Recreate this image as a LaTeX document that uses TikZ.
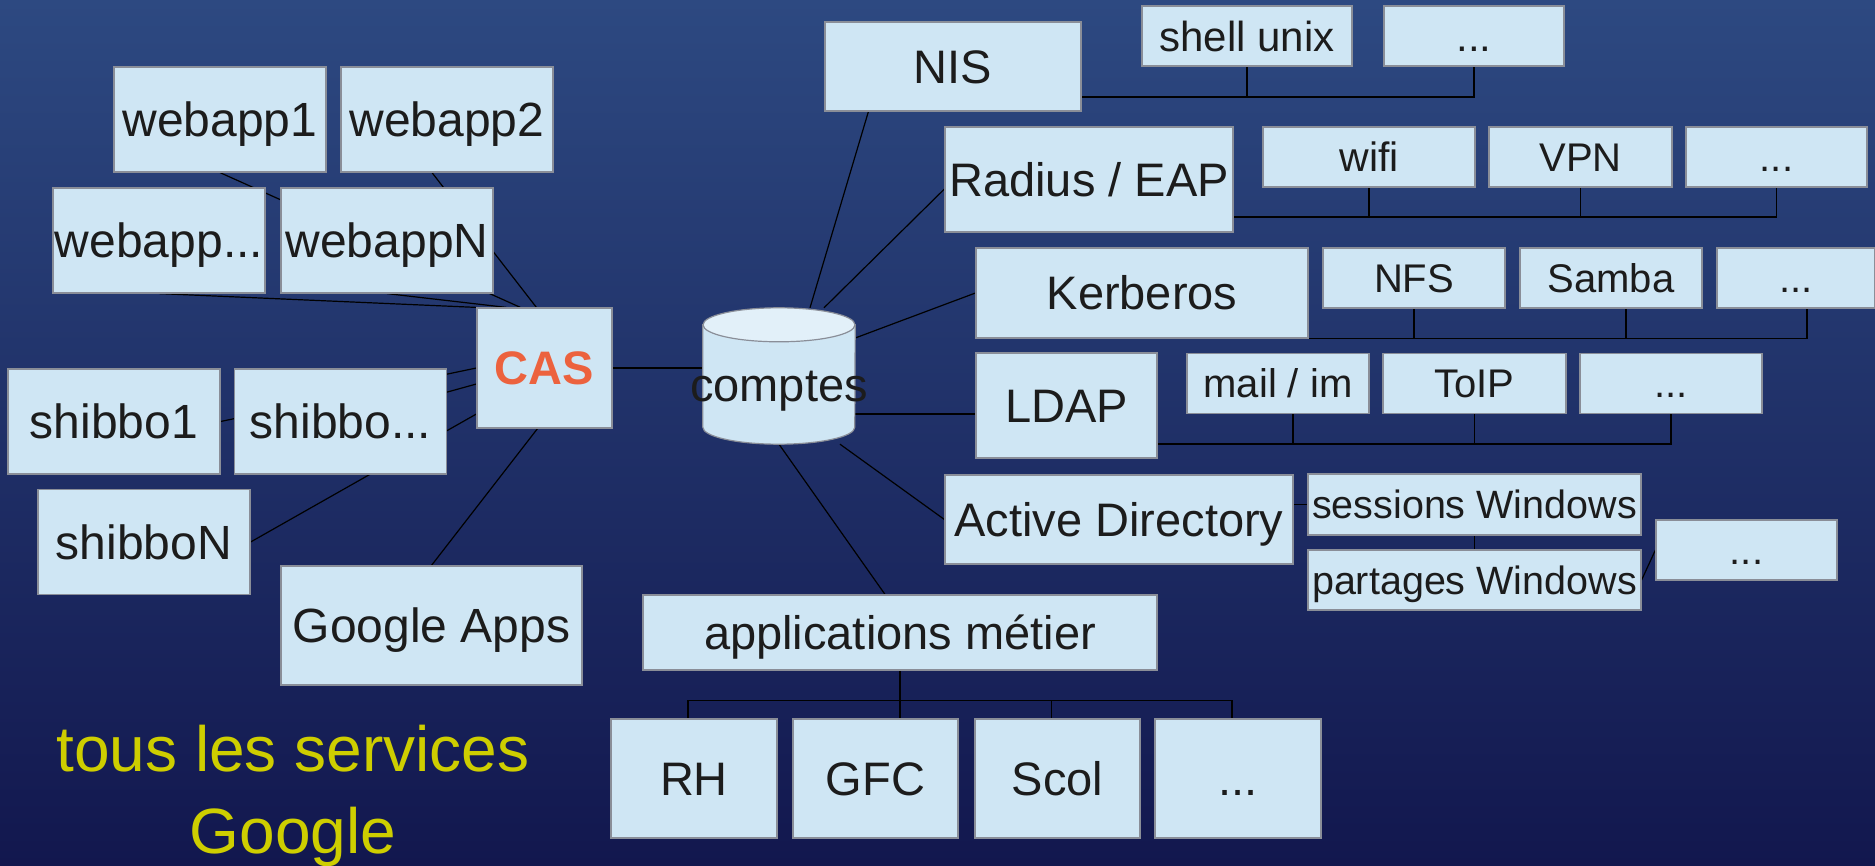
\documentclass[tikz,border=0pt]{standalone}
\usepackage{fontspec}
\setmainfont{Liberation Sans}
\usepackage{tikz}

\definecolor{boxfill}{RGB}{207,230,244}
\definecolor{boxedge}{RGB}{138,142,152}
\definecolor{drumtop}{RGB}{226,240,249}
\definecolor{inktext}{RGB}{28,28,28}
\definecolor{casorange}{RGB}{236,98,62}
\definecolor{googleyellow}{RGB}{206,206,0}
\definecolor{skytop}{RGB}{45,73,129}
\definecolor{skybottom}{RGB}{18,23,78}

\pgfdeclarelayer{background}
\pgfdeclarelayer{wires}
\pgfdeclarelayer{drum}
\pgfsetlayers{background,wires,drum,main}

% font size in px, caps centred in the box
\tikzset{fs/.code={\pgfmathsetmacro\capht{0.716*#1}%
  \edef\fsnext{\noexpand\tikzset{font=\noexpand\fontsize{#1pt}{#1pt}\noexpand\selectfont,
    text height=\capht pt, text depth=0pt}}\fsnext}}
\tikzset{boxsize/.style 2 args={minimum width=#1pt, minimum height=#2pt}}
\tikzstyle{service}=[rectangle, draw=boxedge, line width=1.2pt, fill=boxfill,
  text=inktext, inner sep=0pt, fs=47]
\newcommand{\service}{\node[service]}

\begin{document}
\begin{tikzpicture}[x=1pt, y=-1pt,
    wire/.style={draw=black, line width=1.2pt},
    every edge/.style={wire}
]
\useasboundingbox (0,0) rectangle (1875,866);
\begin{pgfonlayer}{background}
\shade[top color=skytop, bottom color=skybottom] (0,0) rectangle (1875,866);
\end{pgfonlayer}
\clip (0,0) rectangle (1875,866);

% CAS side
\service (webappA) at (220,119.5) [boxsize={212}{105}, fs=48] {webapp1};
\service (webappB) at (447,119.5) [boxsize={212}{105}, fs=48] {webapp2};
\service (webappDots) at (159,240.5) [boxsize={212}{105}, fs=48] {webapp...};
\service (webappN) at (387,240.5) [boxsize={212}{105}, fs=48] {webappN};
\service (cas) at (544.5,368) [boxsize={135}{120}, text=casorange,
  font=\fontsize{47pt}{47pt}\selectfont\bfseries] {CAS};
\service (shibA) at (114,421.5) [boxsize={212}{105}, fs=48] {shibbo1};
\service (shibDots) at (340.5,421.5) [boxsize={212}{105}, fs=48] {shibbo...};
\service (shibN) at (144,542) [boxsize={212}{105}, fs=48] {shibboN};
\service (gapps) at (431.5,625.5) [boxsize={301}{119}, fs=48] {Google Apps};
\node (googleNote) at (293,853) [anchor=base, align=center, text=googleyellow,
  font=\fontsize{64pt}{82pt}\selectfont] {tous les services\\Google};

% the accounts store (label is wider than the drum)
\node (comptes) at (779,376) [minimum width=152pt, minimum height=136pt, inner sep=0pt,
  inner xsep=-13pt, text=inktext, fs=47, text height=52pt] {comptes};

% NIS / Radius / Kerberos / LDAP / AD
\service (nis) at (953,66.5) [boxsize={256}{89}] {NIS};
\service (shell) at (1247,36) [boxsize={210}{60}, fs=42] {shell unix};
\service (nisMore) at (1474,36) [boxsize={180}{60}, fs=42] {...};
\service (radius) at (1089,179.5) [boxsize={288}{105}] {Radius / EAP};
\service (wifi) at (1369,157) [boxsize={212}{60}, fs=41] {wifi};
\service (vpn) at (1580.5,157) [boxsize={183}{60}, fs=40] {VPN};
\service (radiusMore) at (1776.5,157) [boxsize={181}{60}, fs=40] {...};
\service (kerberos) at (1142,293) [boxsize={332}{90}] {Kerberos};
\service (nfs) at (1414,278) [boxsize={182}{60}, fs=40] {NFS};
\service (samba) at (1611,278) [boxsize={182}{60}, fs=40] {Samba};
\service (kerbMore) at (1796,278) [boxsize={158}{60}, fs=40] {...};
\service (ldap) at (1066.5,405.5) [boxsize={181}{105}] {LDAP};
\service (mail) at (1278,383.5) [boxsize={182}{60}, fs=40] {mail / im};
\service (toip) at (1474.5,383.5) [boxsize={183}{60}, fs=40] {ToIP};
\service (ldapMore) at (1671,383.5) [boxsize={182}{60}, fs=40] {...};
\service (ad) at (1119,519.5) [boxsize={348}{89}] {Active Directory};
\service (sessions) at (1474.5,504.5) [boxsize={333}{61}, fs=39.5] {sessions Windows};
\service (partages) at (1474.5,580) [boxsize={333}{60}, fs=39.5] {partages Windows};
\service (adMore) at (1746.5,550) [boxsize={181}{60}, fs=40] {...};

% business applications
\service (metier) at (900,632.5) [boxsize={514}{75}] {applications métier};
\service (rh) at (694,778.5) [boxsize={166}{119}] {RH};
\service (gfc) at (875.5,778.5) [boxsize={165}{119}] {GFC};
\service (scol) at (1057.5,778.5) [boxsize={165}{119}] {Scol};
\service (metierMore) at (1238,778.5) [boxsize={166}{119}] {...};

% cylinder behind the comptes label
\begin{pgfonlayer}{drum}
\filldraw[fill=boxfill, draw=boxedge, line width=1.2pt]
  ([yshift=-17pt]comptes.north west) -- ([yshift=17pt]comptes.south west)
  arc[start angle=180, end angle=360, x radius=76pt, y radius=17pt]
  -- ([yshift=-17pt]comptes.north east) -- cycle;
\filldraw[fill=drumtop, draw=boxedge, line width=1.2pt]
  ([yshift=-17pt]comptes.north) ellipse [x radius=76pt, y radius=17pt];
\end{pgfonlayer}

\begin{pgfonlayer}{wires}
\path
(webappDots.south) edge (cas.north west)
(webappN.south) edge ([xshift=30pt]cas.north west)
(webappA.south) edge ([xshift=44pt]cas.north west)
([xshift=-15pt]webappB.south) edge ([xshift=60pt]cas.north west)
(shibA.east) edge (cas.west)
(shibDots) edge ([yshift=-16pt]cas.west)
(shibN.east) edge ([yshift=-46pt]cas.west)
(gapps.north) edge ([xshift=-7pt]cas.south)
([xshift=31pt]comptes.north) edge ([xshift=44pt]nis.south west)
([xshift=45pt]comptes.north) edge ([yshift=-9.5pt]radius.west)
([yshift=38pt]comptes.east) edge (kerberos.west)
([xshift=61pt]comptes.south) edge (ad.west)
(comptes.south) edge ([xshift=-15pt]metier.north)
(sessions.south) edge (partages.north)
(partages.east) edge (adMore.west)
;
\draw[wire] (cas.east) -- (cas.east -| comptes.west);
\draw[wire] ([yshift=-38pt]comptes.east) coordinate (ldapIn) -- (ldapIn -| ldap.west);
\draw[wire] (ad.east |- sessions.west) -- (sessions.west);
% buses under each service
\draw[wire] ([yshift=-30.5pt]nis.east) coordinate (nisBus) -| (nisMore.south);
\draw[wire] (shell.south) -- (shell.south |- nisBus);
\draw[wire] ([yshift=-37.5pt]radius.east) coordinate (radiusBus) -| (radiusMore.south);
\draw[wire] (wifi.south) -- (wifi.south |- radiusBus);
\draw[wire] (vpn.south) -- (vpn.south |- radiusBus);
\draw[wire] (kerberos.south east) -| ([xshift=11pt]kerbMore.south);
\draw[wire] (nfs.south) -- (nfs.south |- kerberos.south);
\draw[wire] ([xshift=15pt]samba.south) -- ([xshift=15pt]samba.south |- kerberos.south);
\draw[wire] ([yshift=-38.5pt]ldap.east) coordinate (ldapBus) -| (ldapMore.south);
\draw[wire] ([xshift=15pt]mail.south) -- ([xshift=15pt]mail.south |- ldapBus);
\draw[wire] (toip.south) -- (toip.south |- ldapBus);
\draw[wire] (metier.south) -- (metier.south |- gfc.north);
\draw[wire] ([xshift=-6pt]rh.north) -- ([xshift=-6pt,yshift=18pt]rh.north) coordinate (metierBus)
  -| ([xshift=-6pt]metierMore.north);
\draw[wire] ([xshift=-6pt]scol.north) -- ([xshift=-6pt]scol.north |- metierBus);
\end{pgfonlayer}
\end{tikzpicture}
\end{document}
